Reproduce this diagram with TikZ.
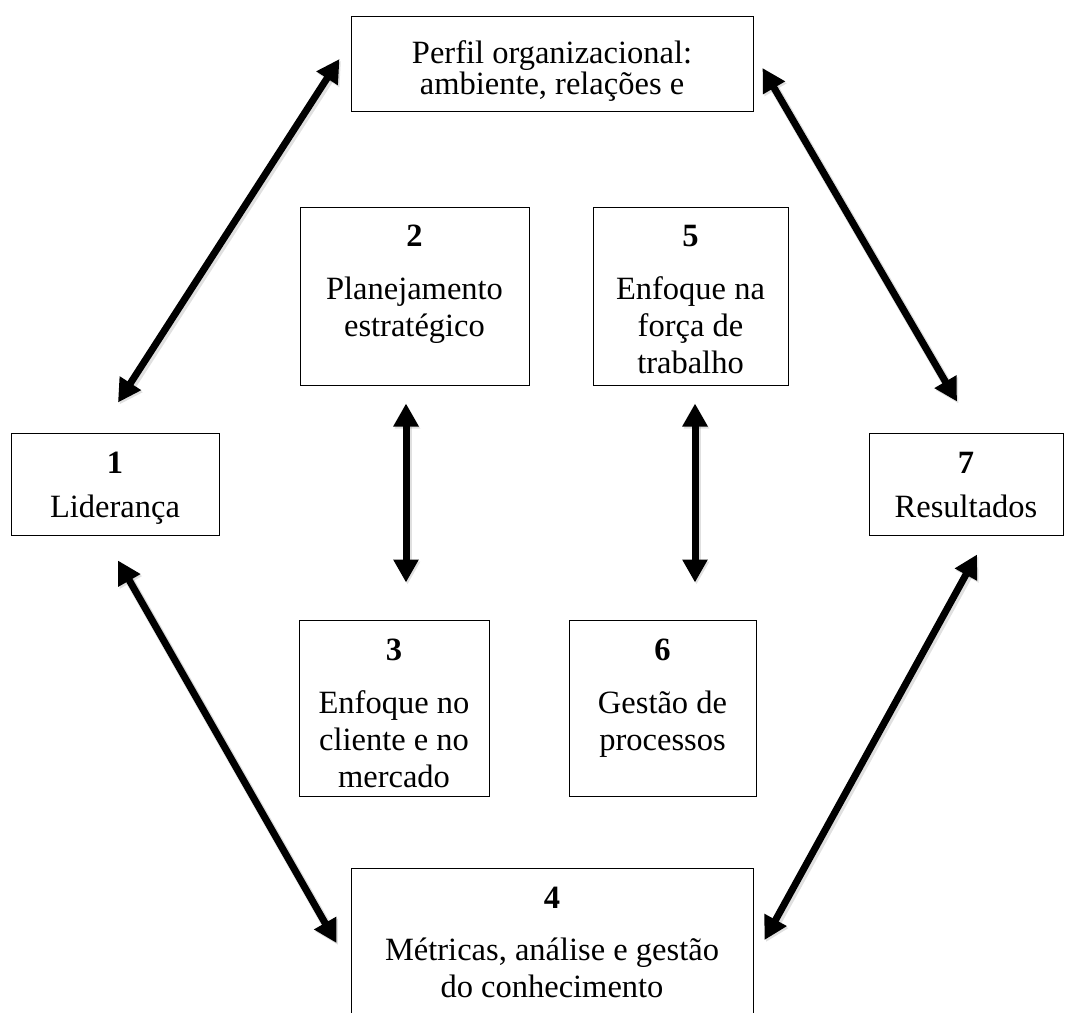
\documentclass[tikz,border=0pt]{standalone}
\usepackage{fontspec}
\setmainfont{Liberation Serif}
\usetikzlibrary{arrows.meta}
\begin{document}
\begin{tikzpicture}[x=1pt,y=1pt,
  boxst/.style={draw=black, line width=1pt, inner sep=0pt},
  lbl/.style={anchor=north, align=center, inner sep=0pt, font=\fontsize{32.5}{37}\selectfont},
  arr/.style={line width=7pt, {Triangle[width=24pt,length=23pt]}-{Triangle[width=24pt,length=23pt]},
    preaction={draw=black, opacity=0.12, line width=9pt, transform canvas={shift={(1.5pt,-2pt)}}}}
]
\clip (0,0) rectangle (1065,-1012);
% boxes
\node[boxst, minimum width=402pt, minimum height=95pt]  (top) at (552,-63.5) {};
\node[boxst, minimum width=208pt, minimum height=102pt] (n1) at (115,-484) {};
\node[boxst, minimum width=194pt, minimum height=102pt] (n7) at (966,-484) {};
\node[boxst, minimum width=229pt, minimum height=178pt] (n2) at (414.5,-296) {};
\node[boxst, minimum width=195pt, minimum height=178pt] (n5) at (690.5,-296) {};
\node[boxst, minimum width=190pt, minimum height=176pt] (n3) at (394,-708) {};
\node[boxst, minimum width=187pt, minimum height=176pt] (n6) at (662.5,-708) {};
\node[boxst, minimum width=402pt, minimum height=162pt] (n4) at (552,-949) {};
% texts
\node[lbl] (ttop) at (552,-33) {\rule{0pt}{30pt}Perfil organizacional:\\[-6pt]ambiente, relações e};
\node[lbl] (t1) at (115,-443) {\rule{0pt}{30pt}\textbf{1}\\[7pt]Liderança};
\node[lbl] (t7) at (966,-443) {\rule{0pt}{30pt}\textbf{7}\\[7pt]Resultados};
\node[lbl] (t2) at (414.5,-216) {\rule{0pt}{30pt}\textbf{2}\\[16pt]Planejamento\\estratégico};
\node[lbl] (t5) at (690.5,-216) {\rule{0pt}{30pt}\textbf{5}\\[16pt]Enfoque na\\força de\\trabalho};
\node[lbl] (t3) at (394,-630) {\rule{0pt}{30pt}\textbf{3}\\[16pt]Enfoque no\\cliente e no\\mercado};
\node[lbl] (t6) at (662.5,-630) {\rule{0pt}{30pt}\textbf{6}\\[16pt]Gestão de\\processos};
\node[lbl] (t4) at (552,-878) {\rule{0pt}{30pt}\textbf{4}\\[15pt]Métricas, análise e gestão\\do conhecimento};
% arrows
\draw[arr] ([xshift=3pt,yshift=30pt]n1.north) -- ([xshift=-11pt,yshift=4.5pt]top.west);
\draw[arr] ([xshift=9pt,yshift=-4.5pt]top.east) -- ([xshift=-9pt,yshift=31pt]n7.north);
\draw[arr] ([xshift=3pt,yshift=-25pt]n1.south) -- ([xshift=-14pt,yshift=6pt]n4.west);
\draw[arr] ([xshift=11pt,yshift=-19pt]n7.south) -- ([xshift=11pt,yshift=9pt]n4.east);
\draw[arr] ([xshift=-8.5pt,yshift=-18pt]n2.south) -- ([xshift=12pt,yshift=37pt]n3.north);
\draw[arr] ([xshift=4.5pt,yshift=-18pt]n5.south) -- ([xshift=32.5pt,yshift=37pt]n6.north);
\end{tikzpicture}
\end{document}
